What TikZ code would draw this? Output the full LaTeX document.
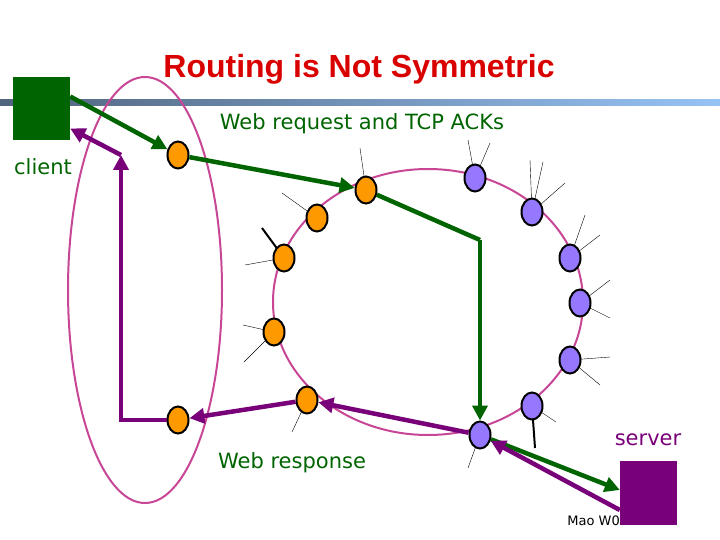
\documentclass[tikz,border=0pt]{standalone}
\usepackage{fontspec}
\setmainfont{Liberation Sans}
\newfontfamily\vfont{DejaVu Sans}
\usetikzlibrary{arrows.meta,shapes.geometric}
\definecolor{dg}{RGB}{0,100,0}
\definecolor{pu}{RGB}{120,0,120}
\definecolor{mg}{RGB}{200,70,150}
\definecolor{org}{RGB}{255,153,0}
\definecolor{vio}{RGB}{150,120,255}
\definecolor{barl}{RGB}{80,100,125}
\definecolor{barr}{RGB}{150,195,245}
\begin{document}
\begin{tikzpicture}[x=1pt,y=-1pt,
 rt/.style={draw=black,line width=2pt,ellipse,minimum width=21pt,minimum height=27pt,inner sep=0pt},
 on/.style={rt,fill=org}, vn/.style={rt,fill=vio},
 ga/.style={draw=dg,line width=4.5pt,-{Triangle[length=15pt,width=15pt]}},
 pa/.style={draw=pu,line width=4.5pt,-{Triangle[length=15pt,width=15pt]}},
 sp/.style={draw=black,line width=0.4pt}, tsp/.style={draw=black,line width=2pt},
 lab/.style={font=\vfont\fontsize{21}{24}\selectfont}]
\useasboundingbox (0,0) rectangle (720,540);
\shade[left color=barl, right color=barr] (0,100) rectangle (720,106);
\node[text=red!85!black,font=\bfseries\fontsize{32}{36}\selectfont] (title) at (359,69) {Routing is Not Symmetric};
\draw[mg,line width=2pt] (145,290) ellipse [x radius=77, y radius=213];
\draw[mg,line width=2pt] (428,302) ellipse [x radius=155, y radius=133];
% spokes
\draw[sp] (360,148)--(366,190); \draw[sp] (282,193)--(317,218);
\draw[tsp] (262,228)--(284,258); \draw[sp] (245,265)--(284,258);
\draw[sp] (243,325)--(274,332); \draw[sp] (244,362)--(274,332);
\draw[sp] (292,432)--(307,400);
\draw[sp] (468,140)--(475,178); \draw[sp] (490,143)--(475,178);
\draw[sp] (530,160)--(532,212); \draw[sp] (543,162)--(532,212); \draw[sp] (565,183)--(532,212);
\draw[sp] (585,215)--(570,258); \draw[sp] (600,235)--(570,258);
\draw[sp] (610,280)--(580,303); \draw[sp] (610,318)--(580,303);
\draw[sp] (610,357)--(570,360); \draw[sp] (600,385)--(570,360);
\draw[tsp] (535,448)--(532,406); \draw[sp] (556,422)--(532,406);
\draw[sp] (468,468)--(480,435);
% nodes
\node[fill=dg,minimum width=57pt,minimum height=63pt,inner sep=0pt] (client) at (41.5,108.5) {};
\node[fill=pu,minimum width=57pt,minimum height=64pt,inner sep=0pt] (server) at (648.5,493) {};
\node[on] (a) at (178,155) {}; \node[on] (b) at (178,420) {};
\node[on] (o1) at (366,190) {}; \node[on] (o2) at (317,218) {};
\node[on] (o3) at (284,258) {}; \node[on] (o4) at (274,332) {};
\node[on] (o5) at (307,400) {};
\node[vn] (v1) at (475,178) {}; \node[vn] (v2) at (532,212) {};
\node[vn] (v3) at (570,258) {}; \node[vn] (v4) at (580,303) {};
\node[vn] (v5) at (570,360) {}; \node[vn] (v6) at (532,406) {};
\node[vn] (v7) at (480,435) {};
\coordinate (c1) at (480,240); \coordinate (p1) at (121,420); \coordinate (p2) at (121,155);
% arrows
\draw[ga] ([yshift=12pt]client.east) -- (a);
\draw[ga] (a) -- (o1);
\draw[ga,-] (o1) -- (c1);
\draw[ga] (c1) -- (v7);
\draw[ga] (v7) -- ([yshift=3pt]server.west);
\draw[pa] ([yshift=-17pt]server.west) -- (v7);
\draw[pa] (v7) -- (o5);
\draw[pa] (o5) -- (b);
\draw[pa] (b) -- (p1) -- (p2);
\draw[pa] (p2) -- ([yshift=-20pt]client.east);
% labels
\node[text=dg,lab] (cl) at (43,167) {client};
\node[text=dg,lab] (wr) at (362,124) {Web request and TCP ACKs};
\node[text=dg,lab] (wp) at (292,463) {Web response};
\node[text=pu,lab] (sv) at (648,440) {server};
\node[font=\vfont\fontsize{13}{15}\selectfont,anchor=east,inner sep=0pt] (mao) at (620,521) {Mao W0};
\end{tikzpicture}
\end{document}
